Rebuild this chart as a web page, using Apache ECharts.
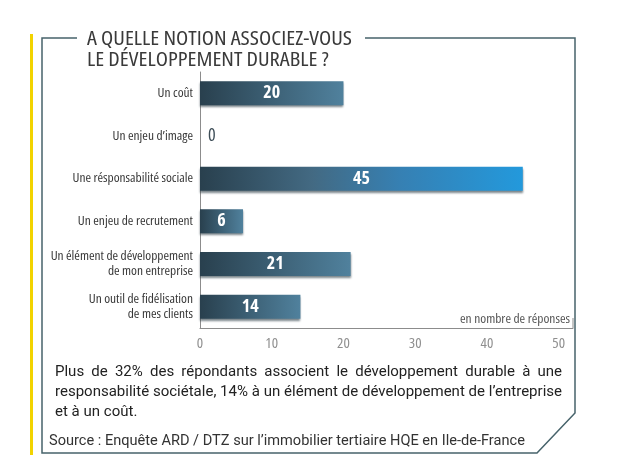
<!DOCTYPE html>
<html><head><meta charset="utf-8">
<script src="https://cdn.jsdelivr.net/npm/echarts@6/dist/echarts.min.js"></script>
<style>html,body{margin:0;padding:0;background:#fff}#c{width:620px;height:465px}</style>
</head><body><div id="c"></div>
<script>
// ---- data ----
const categories = ["Un coût", "Un enjeu d’image", "Une résponsabilité sociale", "Un enjeu de recrutement", "Un élément de développement\nde mon entreprise", "Un outil de fidélisation\nde mes clients"];
const values = [20, 0, 45, 6, 21, 14];
const xTicks = [0, 10, 20, 30, 40, 50];
const xAxisMax = 52;
const titleLines = ["A QUELLE NOTION ASSOCIEZ-VOUS", "LE DÉVELOPPEMENT DURABLE ?"];
const unitNote = "en nombre de réponses";
const noteLines = ["Plus de 32% des répondants associent le développement durable à une", "responsabilité sociétale, 14% à un élément de développement de l’entreprise", "et à un coût."];
const sourceText = "Source : Enquête ARD / DTZ sur l’immobilier tertiaire HQE en Ile-de-France";

// ---- styling ----
const NARROW = "'Open Sans'";
const COND = "condensed";
const BODY = "Roboto,'Open Sans',sans-serif";
const FRAME = '#47636b';
const ctx = document.createElement('canvas').getContext('2d');
function tw(text, font) { ctx.font = font; return ctx.measureText(text).width; }
function txt(x, y, text, font, fill, align, extra) {
  return Object.assign({ type: 'text', x: x, y: y, silent: true,
    style: { text: text, font: font, fill: fill, textAlign: align, textVerticalAlign: 'middle', align: align, verticalAlign: 'middle' } }, extra || {});
}

const normalGrad = new echarts.graphic.LinearGradient(0, 0, 1, 0, [
  { offset: 0, color: '#29404e' }, { offset: 1, color: '#50819d' }]);
const hiGrad = new echarts.graphic.LinearGradient(0, 0, 1, 0, [
  { offset: 0, color: '#29404e' }, { offset: 0.35, color: '#436a83' }, { offset: 0.62, color: '#3680b3' }, { offset: 1, color: '#2399dc' }]);
const maxVal = Math.max(...values);

const barData = values.map(v => {
  const item = { value: v, itemStyle: { color: v === maxVal ? hiGrad : normalGrad } };
  if (v === 0) item.label = { position: 'right', color: '#3d4d57', distance: 8, fontWeight: 'normal' };
  return item;
});

const graphics = [];
// yellow bar and frame
graphics.push({ type: 'rect', shape: { x: 30, y: 34, width: 3, height: 421 }, style: { fill: '#f2d300' }, silent: true });
graphics.push({ type: 'polyline', shape: { points: [[77, 38], [42, 38], [42, 453], [537, 453], [575, 413], [575, 38], [365, 38]] },
  style: { stroke: FRAME, lineWidth: 1.5, fill: null }, silent: true });
// title (condensed)
const titleFont = COND + " 19.5px " + NARROW;
const tScale = 265 / tw(titleLines[0], titleFont);
titleLines.forEach((t, i) => {
  graphics.push(txt(87, 39 + i * 21.5, t, titleFont, '#3a3a3a', 'left', { scaleX: tScale }));
});
// unit note
const uFs = 13 * 110 / tw(unitNote, COND + " 13px " + NARROW);
graphics.push(txt(570, 319, unitNote, COND + " " + uFs.toFixed(2) + "px " + NARROW, '#555', 'right'));
graphics.push({ type: 'line', silent: true, shape: { x1: 573, y1: 318, x2: 573, y2: 328 }, style: { stroke: '#8c8c8c', lineWidth: 1 } });
// paragraph, justified
const pLeft = 55, pRight = 562;
const fs = 14 * (pRight - pLeft) / tw(noteLines[1], "14px " + BODY);
const pFont = fs.toFixed(2) + "px " + BODY;
const lineYs = [372, 392, 412];
noteLines.forEach((line, i) => {
  if (i === noteLines.length - 1) { graphics.push(txt(pLeft, lineYs[i], line, pFont, '#222', 'left')); return; }
  const words = line.split(' ');
  const widths = words.map(w => tw(w, pFont));
  const gap = (pRight - pLeft - widths.reduce((a, b) => a + b, 0)) / (words.length - 1);
  let x = pLeft;
  words.forEach((w, k) => { graphics.push(txt(x, lineYs[i], w, pFont, '#222', 'left')); x += widths[k] + gap; });
});
// source
const sFs = 14 * (525 - 49) / tw(sourceText, "14px " + BODY);
graphics.push(txt(49, 441, sourceText, sFs.toFixed(2) + "px " + BODY, '#333', 'left'));

const chart = echarts.init(document.getElementById('c'), null, { renderer: 'canvas' });
chart.setOption({
  animation: false,
  backgroundColor: '#fff',
  grid: { left: 200, right: 47, top: 72, bottom: 137, containLabel: false },
  xAxis: {
    type: 'value', min: xTicks[0], max: xAxisMax, interval: xTicks[1] - xTicks[0],
    axisLine: { show: true, lineStyle: { color: '#8c8c8c', width: 1 } },
    axisTick: { show: false }, splitLine: { show: false },
    axisLabel: { color: '#8f8f8f', fontSize: 15, fontStyle: COND, fontFamily: NARROW, margin: 8, showMaxLabel: false,
      formatter: v => xTicks.includes(v) ? String(v) : '' }
  },
  yAxis: {
    type: 'category', data: categories, inverse: true,
    axisLine: { show: true, lineStyle: { color: '#8c8c8c', width: 1 } },
    axisTick: { show: false },
    axisLabel: { color: '#383838', fontSize: 13.4, fontStyle: COND, fontFamily: NARROW, lineHeight: 15, margin: 7 }
  },
  series: [{
    type: 'bar', data: barData, barWidth: 24,
    itemStyle: { shadowColor: 'rgba(15,35,45,0.55)', shadowBlur: 2, shadowOffsetY: 2 },
    label: { show: true, position: 'inside', color: '#fff', fontSize: 18, fontWeight: 'bold', fontStyle: COND, fontFamily: NARROW }
  }],
  graphic: graphics
});
</script></body></html>
